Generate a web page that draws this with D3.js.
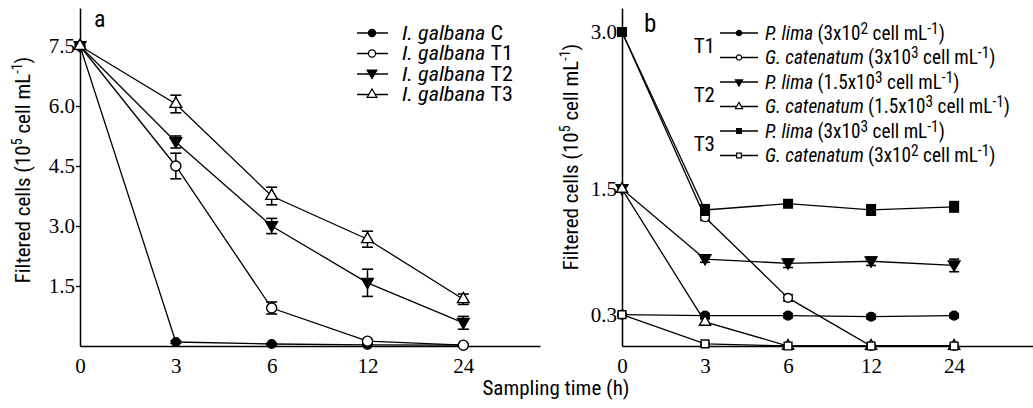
<!DOCTYPE html>
<html><head><meta charset="utf-8">
<script src="https://cdn.jsdelivr.net/npm/d3@7"></script>
<style>body{margin:0;background:#fff} svg{display:block}</style>
</head><body><svg id="c" width="1033" height="408"></svg>
<script>
// ---------- data ----------
const times = ["0","3","6","12","24"];
// panel a
const aNames = ["C","T1","T2","T3"];
const aC  = [7.5, 0.10, 0.05, 0.03, 0.02];
const aT1 = [7.5, 4.50, 0.95, 0.12, 0.02];
const aT2 = [7.5, 5.10, 3.00, 1.58, 0.58];
const aT3 = [7.5, 6.05, 3.75, 2.67, 1.17];
const aCErr  = [0, 0.03, 0.02, 0.02, 0.01];
const aT1Err = [0, 0.32, 0.15, 0.04, 0.02];
const aT2Err = [0, 0.15, 0.19, 0.34, 0.16];
const aT3Err = [0, 0.22, 0.22, 0.20, 0.13];
const aYTicks = [1.5, 3.0, 4.5, 6.0, 7.5];
// panel b
const bGroups = ["T1","T2","T3"];
const bPlimaT1 = [0.30, 0.29, 0.29, 0.28, 0.29];
const bGcatT1  = [3.00, 1.23, 0.46, 0.00, 0.00];
const bPlimaT2 = [1.50, 0.83, 0.79, 0.81, 0.77];
const bGcatT2  = [1.50, 0.23, 0.00, 0.00, 0.00];
const bPlimaT3 = [3.00, 1.30, 1.36, 1.30, 1.33];
const bGcatT3  = [0.30, 0.02, 0.00, 0.00, 0.00];
const bPlimaT1Err = [0, 0.02, 0.02, 0.02, 0.02];
const bGcatT1Err  = [0, 0.03, 0.03, 0, 0];
const bPlimaT2Err = [0, 0.03, 0.04, 0.04, 0.06];
const bGcatT2Err  = [0, 0.03, 0, 0, 0];
const bPlimaT3Err = [0, 0.05, 0.02, 0.05, 0.05];
const bGcatT3Err  = [0, 0.01, 0, 0, 0];
const bYTicks = [0.3, 1.5, 3.0];
const bLegendSpecies = ["P. lima","G. catenatum","P. lima","G. catenatum","P. lima","G. catenatum"];
const bLegendConc = [["3","2"],["3","3"],["1.5","3"],["1.5","3"],["3","3"],["3","2"]];

// ---------- drawing ----------
const svg = d3.select("#c");
const SANS = "'Liberation Sans Narrow','Arial Narrow','Roboto Condensed','Liberation Sans',sans-serif";
const SERIF = "'Liberation Serif','Times New Roman',serif";

const shapes = {
  fcircle:{type:d3.symbolCircle, fill:"#000", rot:0},
  ocircle:{type:d3.symbolCircle, fill:"#fff", rot:0},
  fdown:{type:d3.symbolTriangle, fill:"#000", rot:180},
  otri:{type:d3.symbolTriangle, fill:"#fff", rot:0},
  fsquare:{type:d3.symbolSquare, fill:"#000", rot:0},
  osquare:{type:d3.symbolSquare, fill:"#fff", rot:0}
};

function supText(sel, parts, supSize, rise){
  let up = false;
  parts.forEach(p=>{
    const t = sel.append("tspan").text(p.t);
    if(p.sup){ t.attr("dy",-rise).attr("font-size",supSize); up = true; }
    else { if(up){ t.attr("dy",rise); up=false; } if(p.it) t.attr("font-style","italic"); }
  });
}
function hscale(sel, ax, s){
  sel.attr("transform",`translate(${ax},0) scale(${s},1) translate(${-ax},0)`);
}

function panel(opts){
  const g = svg.append("g");
  const x = d3.scaleLinear().domain([0, opts.xMax]).range([opts.x0, opts.x1]);
  const y = d3.scaleLinear().domain([0, opts.yMax]).range([346, 8]);
  const xa = d3.axisBottom(x).tickValues([0,1,2,3,4]).tickFormat(i=>times[i]).tickSize(0).tickPadding(12);
  const gx = g.append("g").attr("transform","translate(0,346)").call(xa);
  gx.select(".domain").attr("stroke","#000").attr("stroke-width",1.5);
  gx.selectAll("text").attr("font-family",SERIF).attr("font-size",21).attr("fill","#000");
  const ya = d3.axisLeft(y).tickValues(opts.yTicks).tickFormat(d3.format(".1f")).tickSize(4).tickSizeOuter(0).tickPadding(1);
  const gy = g.append("g").attr("transform",`translate(${opts.x0},0)`).call(ya);
  gy.select(".domain").attr("stroke","#000").attr("stroke-width",1.5);
  gy.selectAll(".tick line").attr("stroke","#000").attr("stroke-width",1.3);
  gy.selectAll("text").attr("font-family",SERIF).attr("font-size",21).attr("fill","#000");
  opts.series.forEach(s=>{
    const line = d3.line().x((d,i)=>x(i)).y(d=>y(d));
    g.append("path").datum(s.values).attr("d",line).attr("fill","none").attr("stroke","#000").attr("stroke-width",1.3);
  });
  opts.series.forEach(s=>{
    s.values.forEach((v,i)=>{
      const e = s.err[i];
      if(!e) return;
      const cx = x(i);
      g.append("line").attr("x1",cx).attr("x2",cx).attr("y1",y(v+e)).attr("y2",y(Math.max(0,v-e))).attr("stroke","#000").attr("stroke-width",1.5);
      [v+e, Math.max(0,v-e)].forEach(w=>g.append("line").attr("x1",cx-opts.cap).attr("x2",cx+opts.cap).attr("y1",y(w)).attr("y2",y(w)).attr("stroke","#000").attr("stroke-width",1.6));
    });
    const sh = shapes[s.shape];
    const sym = d3.symbol().type(sh.type).size(s.size);
    g.selectAll(null).data(s.values).join("path")
      .attr("transform",(d,i)=>`translate(${x(i)},${y(d) + (sh.rot?-1:0)}) rotate(${sh.rot})`)
      .attr("d",sym).attr("fill",sh.fill).attr("stroke","#000").attr("stroke-width",1.4);
  });
  g.append("text").attr("x",opts.labelX).attr("y",opts.labelY).attr("font-family",SANS).attr("font-size",opts.labelSize).text(opts.label);
  const yt = g.append("text").attr("transform",`translate(${opts.titleX},${opts.titleY}) rotate(-90)`)
    .attr("text-anchor","middle").attr("font-family",SANS).attr("font-size",21);
  supText(yt,[{t:"Filtered cells (10"},{t:"5",sup:true},{t:" cell mL"},{t:"-1",sup:true},{t:")"}],14,8);
  return {g,x,y};
}

panel({x0:80, x1:540, xMax:4.8, yMax:8.45, yTicks:aYTicks, cap:5.5, label:"a", labelX:94, labelY:27, labelSize:24,
  titleX:30, titleY:170,
  series:[
    {values:aC, err:aCErr, shape:"fcircle", size:60},
    {values:aT1, err:aT1Err, shape:"ocircle", size:80},
    {values:aT2, err:aT2Err, shape:"fdown", size:60},
    {values:aT3, err:aT3Err, shape:"otri", size:60}
  ]});

panel({x0:622, x1:1033, xMax:4.95, yMax:3.23, yTicks:bYTicks, cap:5, label:"b", labelX:644, labelY:32, labelSize:25,
  titleX:578, titleY:157,
  series:[
    {values:bPlimaT1, err:bPlimaT1Err, shape:"fcircle", size:60},
    {values:bGcatT1, err:bGcatT1Err, shape:"ocircle", size:60},
    {values:bPlimaT2, err:bPlimaT2Err, shape:"fdown", size:60},
    {values:bGcatT2, err:bGcatT2Err, shape:"otri", size:55},
    {values:bPlimaT3, err:bPlimaT3Err, shape:"fsquare", size:75},
    {values:bGcatT3, err:bGcatT3Err, shape:"osquare", size:60}
  ]});

svg.append("text").attr("x",556).attr("y",395).attr("text-anchor","middle").attr("font-family",SANS).attr("font-size",21).text("Sampling time (h)");

// legend a
const aShapes = ["fcircle","ocircle","fdown","otri"];
const aTexts = [];
aNames.forEach((n,i)=>{
  const yy = 33 + i*20.5;
  svg.append("line").attr("x1",357).attr("x2",388).attr("y1",yy).attr("y2",yy).attr("stroke","#000").attr("stroke-width",1.5);
  const sh = shapes[aShapes[i]];
  svg.append("path").attr("transform",`translate(372,${yy+(sh.rot?-1:0)}) rotate(${sh.rot})`).attr("d",d3.symbol().type(sh.type).size(40)())
    .attr("fill",sh.fill).attr("stroke","#000").attr("stroke-width",1.3);
  const t = svg.append("text").attr("x",402).attr("y",yy+7).attr("font-family",SANS).attr("font-size",20);
  t.append("tspan").attr("font-style","italic").text("I. galbana ");
  t.append("tspan").text(n);
  aTexts.push(t);
});
{
  const s = 101 / aTexts[0].node().getComputedTextLength();
  aTexts.forEach(t=>hscale(t,402,s));
}

// legend b
const bShapes = ["fcircle","ocircle","fdown","otri","fsquare","osquare"];
const bTexts = [];
bLegendSpecies.forEach((sp,i)=>{
  const yy = 33 + i*24.5;
  svg.append("line").attr("x1",720).attr("x2",758).attr("y1",yy).attr("y2",yy).attr("stroke","#000").attr("stroke-width",1.5);
  const sh = shapes[bShapes[i]];
  svg.append("path").attr("transform",`translate(739,${yy}) rotate(${sh.rot})`).attr("d",d3.symbol().type(sh.type).size(22)())
    .attr("fill",sh.fill).attr("stroke","#000").attr("stroke-width",1.2);
  const t = svg.append("text").attr("x",765).attr("y",yy+7).attr("font-family",SANS).attr("font-size",20);
  const c = bLegendConc[i];
  supText(t,[{t:sp,it:true},{t:" ("+c[0]+"x10"},{t:c[1],sup:true},{t:" cell mL"},{t:"-1",sup:true},{t:")"}],16,6);
  bTexts.push(t);
});
{
  const s = 180 / bTexts[0].node().getComputedTextLength();
  bTexts.forEach(t=>hscale(t,765,s));
}
bGroups.forEach((gname,k)=>{
  const yy = 33 + (2*k)*24.5 + 12 + 8;
  svg.append("text").attr("x",715).attr("y",yy).attr("text-anchor","end").attr("font-family",SANS).attr("font-size",21).text(gname);
});
</script></body></html>
